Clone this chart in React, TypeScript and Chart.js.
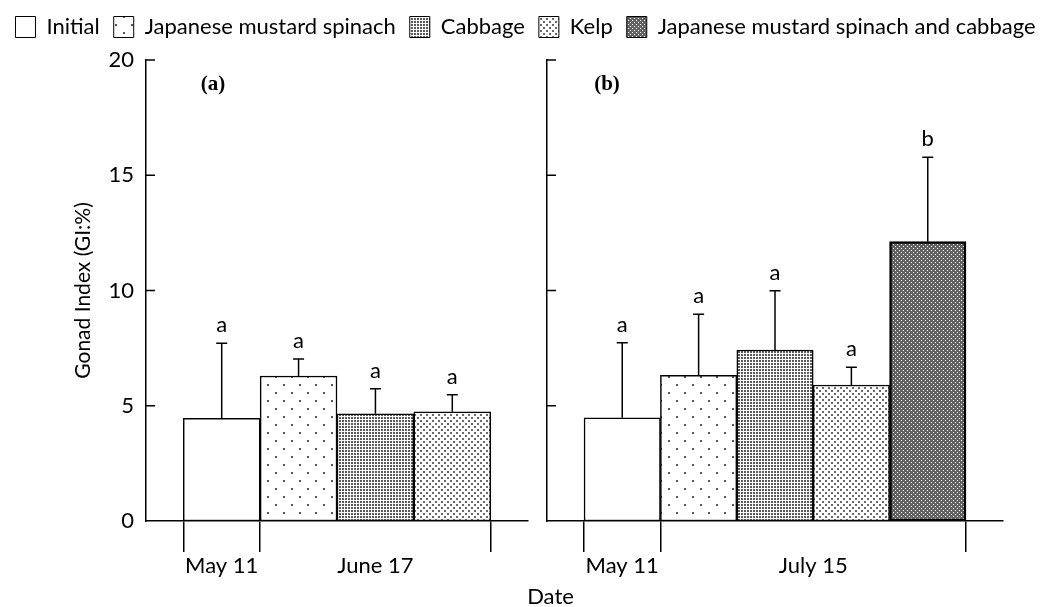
import { useEffect, useRef } from 'react';
import { Chart, registerables } from 'chart.js';

Chart.register(...registerables);

// ---------- data ----------
const treatments = [
  'Initial',
  'Japanese mustard spinach',
  'Cabbage',
  'Kelp',
  'Japanese mustard spinach and cabbage',
];
const treatmentPatterns = ['plain', 'sparseDots', 'denseDots', 'diagDots', 'crossHatch'];

const panelATreatments = [0, 1, 2, 3];
const panelAValues = [4.45, 6.29, 4.65, 4.74];
const panelAErrors = [3.26, 0.74, 1.09, 0.74];
const panelALetters = ['a', 'a', 'a', 'a'];
const panelADates = ['May 11', 'June 17'];

const panelBTreatments = [0, 1, 2, 3, 4];
const panelBValues = [4.48, 6.32, 7.42, 5.9, 12.12];
const panelBErrors = [3.25, 2.65, 2.57, 0.77, 3.66];
const panelBLetters = ['a', 'a', 'a', 'a', 'b'];
const panelBDates = ['May 11', 'July 15'];

const yMin = 0;
const yMax = 20;
const yStep = 5;
const yTitle = 'Gonad Index (GI:%)';
const xTitle = 'Date';
const panelLabels = ['(a)', '(b)'];

const FONT = 'Lato';
const FS = 22;

// ---------- helpers ----------
function makePattern(kind: string): any {
  if (kind === 'plain') return '#ffffff';
  const c = document.createElement('canvas');
  const g = c.getContext('2d') as CanvasRenderingContext2D;
  const dot = (x: number, y: number, w: number, h: number, col: string) => {
    g.fillStyle = col;
    g.fillRect(x, y, w, h);
  };
  if (kind === 'sparseDots') {
    c.width = 16; c.height = 16;
    dot(0, 0, 16, 16, '#ffffff');
    dot(11, 0, 2, 2, '#555555');
    dot(3, 8, 2, 2, '#555555');
  } else if (kind === 'denseDots') {
    c.width = 3; c.height = 3;
    dot(0, 0, 3, 3, '#ffffff');
    dot(0, 0, 2, 2, '#5a5a5a');
  } else if (kind === 'diagDots') {
    c.width = 6; c.height = 6;
    dot(0, 0, 6, 6, '#ffffff');
    dot(0, 0, 2, 2, '#6a6a6a');
    dot(3, 3, 2, 2, '#6a6a6a');
  } else {
    c.width = 4; c.height = 4;
    dot(0, 0, 4, 4, '#626262');
    dot(0, 0, 1, 1, '#ffffff');
    dot(2, 2, 1, 1, '#ffffff');
  }
  return g.createPattern(c, 'repeat');
}

function panelConfig(
  treatIdx: number[],
  values: number[],
  errors: number[],
  letters: string[],
  dates: string[],
  patterns: any[],
  label: string,
  labelDx: number,
  showYLabels: boolean,
  padding: any,
  yWidth: number,
) {
  const n = values.length;
  const margin = 0.485;
  const xMin = -0.5 - margin;
  const xMax = n - 0.5 + margin;
  const positions = values.map((_, i) => i);
  const boundaries = [-0.5, 0.5, n - 0.5];
  const labelPos = [0, n / 2];
  const dateTicks = [...boundaries, ...labelPos].sort((a, b) => a - b);

  const decor = {
    id: 'panelDecor',
    afterDatasetsDraw(chart: any) {
      const { ctx, chartArea, scales } = chart;
      const xs = scales.x;
      const ys = scales.y;
      ctx.save();
      ctx.strokeStyle = '#000';
      ctx.lineWidth = 1.5;
      // inward y tick marks
      ys.ticks.forEach((t: any) => {
        if (t.value <= yMin) return;
        const py = ys.getPixelForValue(t.value);
        ctx.beginPath();
        ctx.moveTo(chartArea.left, py);
        ctx.lineTo(chartArea.left + 9, py);
        ctx.stroke();
      });
      // error bars + letters
      ctx.fillStyle = '#000';
      ctx.font = `${FS}px ${FONT}`;
      ctx.textAlign = 'center';
      ctx.textBaseline = 'alphabetic';
      values.forEach((v, i) => {
        const px = xs.getPixelForValue(positions[i]);
        const y0 = ys.getPixelForValue(v);
        const y1 = ys.getPixelForValue(v + errors[i]);
        ctx.beginPath();
        ctx.moveTo(px, y0);
        ctx.lineTo(px, y1);
        ctx.moveTo(px - 5.5, y1);
        ctx.lineTo(px + 5.5, y1);
        ctx.stroke();
        ctx.fillText(letters[i], px, y1 - 11);
      });
      // panel label
      ctx.font = 'bold 21px "Liberation Serif"';
      ctx.textBaseline = 'middle';
      ctx.fillText(label, chartArea.left + labelDx, chartArea.top + 25);
      ctx.restore();
    },
  };

  return {
    type: 'bar',
    data: {
      datasets: [
        {
          data: values.map((v, i) => ({ x: positions[i], y: v })),
          backgroundColor: treatIdx.map((t) => patterns[t]),
          borderColor: '#000',
          borderWidth: treatIdx.map((t) => (t === 4 ? 2.5 : 1.5)),
          borderSkipped: false,
          barPercentage: 1,
          categoryPercentage: 1,
        },
      ],
    },
    options: {
      responsive: false,
      animation: false,
      events: [],
      layout: { padding },
      plugins: { legend: { display: false }, tooltip: { enabled: false } },
      scales: {
        x: {
          type: 'linear',
          display: false,
          offset: false,
          min: xMin,
          max: xMax,
          afterBuildTicks: (s: any) => {
            s.ticks = positions.map((p) => ({ value: p }));
          },
        },
        xDates: {
          type: 'linear',
          position: 'bottom',
          offset: false,
          min: xMin,
          max: xMax,
          afterBuildTicks: (s: any) => {
            s.ticks = dateTicks.map((p) => ({ value: p }));
          },
          afterFit: (s: any) => {
            s.height = 86;
          },
          ticks: {
            autoSkip: false,
            maxRotation: 0,
            padding: 1,
            color: '#000',
            font: { family: FONT, size: FS },
            callback: (value: any) => {
              const k = labelPos.indexOf(Number(value));
              return k >= 0 ? dates[k] : '';
            },
          },
          grid: {
            display: true,
            offset: false,
            drawOnChartArea: false,
            drawTicks: true,
            tickLength: 31,
            lineWidth: 1.5,
            color: (c: any) =>
              c.tick && boundaries.includes(c.tick.value) ? '#000' : 'rgba(0,0,0,0)',
          },
          border: { display: true, color: '#000', width: 1.5 },
        },
        y: {
          min: yMin,
          max: yMax,
          afterFit: (s: any) => {
            s.width = yWidth;
          },
          ticks: {
            display: showYLabels,
            stepSize: yStep,
            padding: 4,
            color: '#000',
            font: { family: FONT, size: FS },
          },
          grid: { display: false },
          border: { display: true, color: '#000', width: 1.5 },
          title: {
            display: showYLabels,
            text: yTitle,
            color: '#000',
            font: { family: FONT, size: 21 },
            padding: { top: 11, bottom: 0 },
          },
        },
      },
    },
    plugins: [decor],
  };
}

export default function App() {
  const frameRef = useRef<HTMLCanvasElement>(null);
  const aRef = useRef<HTMLCanvasElement>(null);
  const bRef = useRef<HTMLCanvasElement>(null);

  useEffect(() => {
    const patterns = treatmentPatterns.map(makePattern);

    const frame = new Chart(frameRef.current as any, {
      type: 'bar',
      data: {
        datasets: treatments.map((t, k) => ({
          label: t,
          data: [],
          backgroundColor: patterns[k],
          borderColor: '#000',
          borderWidth: 1,
        })),
      },
      options: {
        responsive: false,
        animation: false,
        events: [],
        layout: { padding: { top: 2, left: 0, right: 0, bottom: 0 } },
        plugins: {
          legend: {
            display: true,
            position: 'top',
            labels: {
              boxWidth: 20,
              boxHeight: 21,
              padding: 14,
              color: '#000',
              font: { family: FONT, size: FS },
            },
          },
          tooltip: { enabled: false },
        },
        scales: {
          x: {
            type: 'linear',
            display: true,
            ticks: { display: false },
            grid: { display: false },
            border: { display: false },
            title: {
              display: true,
              text: xTitle,
              color: '#000',
              font: { family: FONT, size: FS },
              padding: { top: 0, bottom: -3 },
            },
          },
          y: {
            display: true,
            ticks: { display: false },
            grid: { display: false },
            border: { display: false },
            afterFit: (s: any) => {
              s.width = 50;
            },
          },
        },
      },
    } as any);

    const chartA = new Chart(
      aRef.current as any,
      panelConfig(
        panelATreatments, panelAValues, panelAErrors, panelALetters, panelADates,
        patterns, panelLabels[0], 67, true,
        { left: 60, top: 60, right: 9, bottom: 0 }, 86,
      ) as any,
    );
    const chartB = new Chart(
      bRef.current as any,
      panelConfig(
        panelBTreatments, panelBValues, panelBErrors, panelBLetters, panelBDates,
        patterns, panelLabels[1], 60, false,
        { left: 0, top: 60, right: 48, bottom: 0 }, 10,
      ) as any,
    );

    return () => {
      frame.destroy();
      chartA.destroy();
      chartB.destroy();
    };
  }, []);

  return (
    <div style={{ position: 'absolute', left: 0, top: 0, width: 1051, height: 607, background: '#fff' }}>
      <canvas ref={frameRef} width={1051} height={607} style={{ position: 'absolute', left: 0, top: 0 }} />
      <canvas ref={aRef} width={537} height={607} style={{ position: 'absolute', left: 0, top: 0 }} />
      <canvas ref={bRef} width={514} height={607} style={{ position: 'absolute', left: 537, top: 0 }} />
    </div>
  );
}
